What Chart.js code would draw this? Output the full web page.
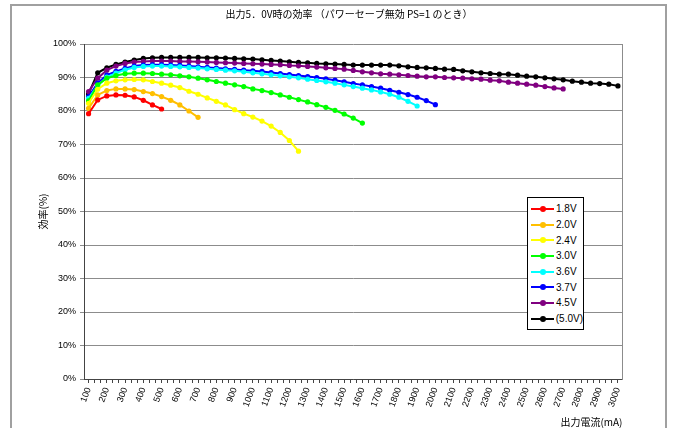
<!DOCTYPE html>
<html>
<head>
<meta charset="utf-8">
<script src="https://cdn.jsdelivr.net/npm/chart.js@4.4.1/dist/chart.umd.min.js"></script>
<style>
    body { margin: 0; background: #fff; }
    #wrap { position: relative; width: 674px; height: 428px; overflow: hidden; }
    #frame { position: absolute; left: 10px; top: 4px; width: 657px; height: 440px; border: 2px solid #a0a0a0; box-sizing: border-box; }
    canvas { position: absolute; left: 0; top: 0; }
    #legend { position: absolute; left: 527px; top: 197px; width: 57px; height: 133px; border: 1px solid #000; background: #fff;
              box-sizing: border-box; padding-top: 3px; font: 10px 'Liberation Sans', 'Noto Sans CJK JP', sans-serif; color: #000; }
    .row { height: 15.7px; display: flex; align-items: center; }
    .line { position: relative; width: 23px; height: 2px; margin-left: 3px; margin-right: 2px; }
    .dot { position: absolute; left: 9px; top: -2px; width: 6px; height: 6px; border-radius: 50%; }
</style>
</head>
<body>
<div id="wrap">
    <div id="frame"></div>
    <canvas id="effChart" width="674" height="428"></canvas>
    <div id="legend"></div>
</div>
<script>
// output current (mA), one point every 50 mA
const currents = [100, 150, 200, 250, 300, 350, 400, 450, 500, 550, 600, 650, 700, 750, 800, 850, 900, 950,
    1000, 1050, 1100, 1150, 1200, 1250, 1300, 1350, 1400, 1450, 1500, 1550, 1600, 1650, 1700, 1750, 1800, 1850,
    1900, 1950, 2000, 2050, 2100, 2150, 2200, 2250, 2300, 2350, 2400, 2450, 2500, 2550, 2600, 2650, 2700, 2750,
    2800, 2850, 2900, 2950, 3000];

const seriesLabels = ["1.8V", "2.0V", "2.4V", "3.0V", "3.6V", "3.7V", "4.5V", "(5.0V)"];
const seriesColors = ["#FF0000", "#FFBF00", "#FFFF00", "#00FF00", "#00FFFF", "#0000FF", "#800080", "#000000"];

// efficiency (%) per input voltage
const eff18 = [79.2, 83.3, 84.5, 84.8, 84.7, 84.2, 83.2, 81.8, 80.6];
const eff20 = [80.8, 84.8, 86.1, 86.6, 86.6, 86.4, 85.8, 85.2, 84.3, 83.2, 81.8, 80.0, 78.1];
const eff24 = [82.3, 86.5, 88.3, 89.0, 89.3, 89.4, 89.3, 88.8, 88.3, 87.7, 87.0, 85.9, 85.0, 83.9, 82.9, 81.8,
    80.4, 79.2, 78.2, 77.0, 75.5, 73.6, 71.2, 68.0];
const eff30 = [83.0, 87.8, 89.8, 90.6, 91.1, 91.3, 91.3, 91.2, 91.0, 90.8, 90.5, 90.2, 89.8, 89.3, 88.8, 88.3,
    87.8, 87.3, 86.6, 86.1, 85.5, 84.8, 84.1, 83.4, 82.7, 81.9, 81.1, 80.2, 79.1, 77.9, 76.4];
const eff36 = [83.8, 87.6, 90.1, 91.3, 92.3, 93.0, 93.3, 93.4, 93.4, 93.3, 93.2, 93.0, 92.8, 92.6, 92.4, 92.2,
    92.0, 91.7, 91.4, 91.1, 90.8, 90.5, 90.2, 89.9, 89.5, 89.1, 88.7, 88.3, 87.8, 87.3, 86.8, 86.3, 85.7, 85.0,
    84.1, 82.9, 81.5];
const eff37 = [84.3, 88.3, 90.7, 91.8, 92.7, 93.4, 93.7, 93.8, 93.8, 93.7, 93.6, 93.4, 93.2, 93.0, 92.8, 92.6,
    92.4, 92.2, 92.0, 91.8, 91.5, 91.2, 90.9, 90.6, 90.3, 90.0, 89.6, 89.2, 88.7, 88.2, 87.8, 87.3, 86.8, 86.2,
    85.6, 84.9, 84.1, 83.1, 81.9];
const eff45 = [85.8, 89.8, 92.2, 93.4, 94.2, 94.6, 94.8, 94.9, 94.9, 94.9, 94.8, 94.8, 94.7, 94.6, 94.5, 94.4,
    94.3, 94.2, 94.1, 94.0, 93.9, 93.8, 93.6, 93.5, 93.3, 93.1, 92.9, 92.7, 92.5, 92.1, 91.7, 91.4, 91.1, 91.0,
    90.8, 90.6, 90.4, 90.2, 90.2, 90.0, 89.9, 89.8, 89.6, 89.5, 89.2, 89.0, 88.6, 88.3, 88.0, 87.7, 87.3, 86.9, 86.6];
const eff50 = [85.1, 91.4, 92.9, 93.9, 94.6, 95.2, 95.7, 95.9, 96.0, 96.0, 96.0, 96.0, 96.0, 95.9, 95.9, 95.8,
    95.7, 95.6, 95.5, 95.3, 95.1, 94.9, 94.7, 94.5, 94.4, 94.2, 94.1, 94.0, 93.9, 93.7, 93.7, 93.7, 93.7, 93.7,
    93.5, 93.2, 93.0, 92.9, 92.7, 92.5, 92.4, 92.0, 91.7, 91.4, 91.2, 91.0, 91.0, 90.7, 90.4, 90.2, 89.9, 89.6,
    89.3, 88.9, 88.6, 88.3, 88.2, 88.0, 87.5];

const seriesValues = [eff18, eff20, eff24, eff30, eff36, eff37, eff45, eff50];

const jpFont = "'Noto Sans CJK JP', sans-serif";
const numFont = "'Liberation Sans', 'Noto Sans CJK JP', sans-serif";

const datasets = seriesValues.map((vals, i) => ({
    label: seriesLabels[i],
    data: vals.map((v, k) => ({ x: currents[k], y: v })),
    borderColor: seriesColors[i],
    backgroundColor: seriesColors[i],
    borderWidth: 2,
    pointRadius: 2.6,
    pointBorderWidth: 0,
    tension: 0
}));

// html legend, same order as the reference
const legendBox = document.getElementById("legend");
seriesLabels.forEach((lab, i) => {
    const row = document.createElement("div");
    row.className = "row";
    row.innerHTML = `<span class="line" style="background:${seriesColors[i]}"><span class="dot" style="background:${seriesColors[i]}"></span></span><span>${lab}</span>`;
    legendBox.appendChild(row);
});

const ctx = document.getElementById("effChart").getContext("2d");
new Chart(ctx, {
    type: "line",
    data: { datasets: datasets },
    options: {
        responsive: false,
        animation: false,
        layout: { padding: { left: 24, right: 0, top: 0, bottom: 0 } },
        plugins: {
            legend: { display: false },
            tooltip: { enabled: false },
            title: {
                display: true,
                text: "出力5．0V時の効率 （パワーセーブ無効 PS=1 のとき）",
                color: "#000",
                font: { family: jpFont, size: 10, weight: "normal" },
                padding: { top: 8, bottom: 24 }
            }
        },
        scales: {
            x: {
                type: "linear",
                min: 75,
                max: 3025,
                afterFit: s => { s.height = 49; },
                afterBuildTicks: s => {
                    const t = [];
                    for (let k = 0; k <= 87; k++) t.push({ value: 100 + k * 100 / 3 });
                    s.ticks = t;
                },
                ticks: {
                    autoSkip: false,
                    minRotation: 70,
                    maxRotation: 70,
                    padding: 3,
                    color: "#000",
                    font: { family: numFont, size: 9 },
                    callback: v => (Math.round(v) % 100 === 0 ? String(Math.round(v)) : "")
                },
                grid: { drawOnChartArea: false, tickLength: 4, color: "#444" },
                border: { color: "#444", width: 1 },
                title: {
                    display: true,
                    text: "出力電流(mA)",
                    align: "end",
                    color: "#000",
                    padding: { top: 0, bottom: 0 },
                    font: { family: jpFont, size: 10 }
                }
            },
            y: {
                min: 0,
                max: 100,
                afterFit: s => { s.width = 60; },
                ticks: {
                    stepSize: 10,
                    padding: 4,
                    color: "#000",
                    font: { family: numFont, size: 9 },
                    callback: v => v + "%"
                },
                grid: { color: "#8c8c8c", tickLength: 4 },
                border: { color: "#444", width: 1 },
                title: {
                    display: true,
                    text: "効率(%)",
                    color: "#000",
                    padding: { top: 13, bottom: 0 },
                    font: { family: jpFont, size: 10 }
                }
            },
            yRight: {
                position: "right",
                min: 0,
                max: 100,
                afterFit: s => { s.width = 51.5; },
                ticks: { display: false },
                grid: { display: false },
                border: { display: true, color: "#8c8c8c", width: 1 }
            }
        }
    }
});
</script>
</body>
</html>
